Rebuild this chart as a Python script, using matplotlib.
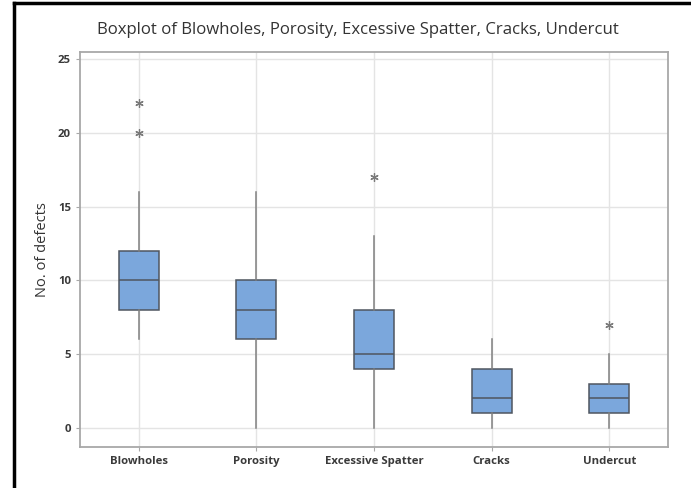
import numpy as np
import matplotlib.pyplot as plt
from matplotlib.lines import Line2D

categories = ['Blowholes', 'Porosity', 'Excessive Spatter', 'Cracks', 'Undercut']
whisker_low = [6, 0, 0, 0, 0]
q1 = [8, 6, 4, 1, 1]
median = [10, 8, 5, 2, 2]
q3 = [12, 10, 8, 4, 3]
whisker_high = [16, 16, 13, 6, 5]
outliers = [[20, 22], [], [17], [], [7]]
y_ticks = [0, 5, 10, 15, 20, 25]

plt.rcParams['font.family'] = ['Open Sans', 'DejaVu Sans']

stats = []
for i, name in enumerate(categories):
    stats.append({'label': name, 'whislo': whisker_low[i], 'q1': q1[i], 'med': median[i],
                  'q3': q3[i], 'whishi': whisker_high[i], 'fliers': outliers[i]})

fig = plt.figure(figsize=(6.91, 4.88), dpi=100)
ax = fig.add_axes([0.1158, 0.084, 0.851, 0.8094])

ax.bxp(stats, positions=np.arange(1, 6), widths=0.34, patch_artist=True, showcaps=False,
       boxprops=dict(facecolor='#7ba7dc', edgecolor='#4f5660', linewidth=1.1),
       medianprops=dict(color='#4f5660', linewidth=1.1),
       whiskerprops=dict(color='#808080', linewidth=1.1),
       flierprops=dict(marker=(6, 2, 0), markersize=6, markeredgecolor='#7a7a7a',
                       markeredgewidth=0.9, linestyle='none'))

ax.set_xlim(0.5, 5.5)
ax.set_ylim(-1.3, 25.47)
ax.set_yticks(y_ticks)
ax.grid(True, color='#e4e4e4', linewidth=1)
ax.set_axisbelow(True)
for s in ax.spines.values():
    s.set_color('#a8a8a8')
    s.set_linewidth(1.3)
ax.tick_params(colors='#a8a8a8', labelcolor='#3a3a3a', length=3, labelsize=8.2)
for lab in ax.get_xticklabels() + ax.get_yticklabels():
    lab.set_fontweight('bold')

ax.set_ylabel('No. of defects', fontsize=10.5, color='#333333', labelpad=6)
fig.text(358 / 691, 1 - 30 / 488, 'Boxplot of Blowholes, Porosity, Excessive Spatter, Cracks, Undercut',
         fontsize=12.1, color='#333333', ha='center', va='center')

fig.add_artist(Line2D([14 / 691, 14 / 691], [0, 1 - 3 / 488], color='black', linewidth=2.5,
                      transform=fig.transFigure))
fig.add_artist(Line2D([14 / 691, 1], [1 - 3 / 488, 1 - 3 / 488], color='black', linewidth=2.5,
                      transform=fig.transFigure))

fig.savefig('out.png', dpi=100)
